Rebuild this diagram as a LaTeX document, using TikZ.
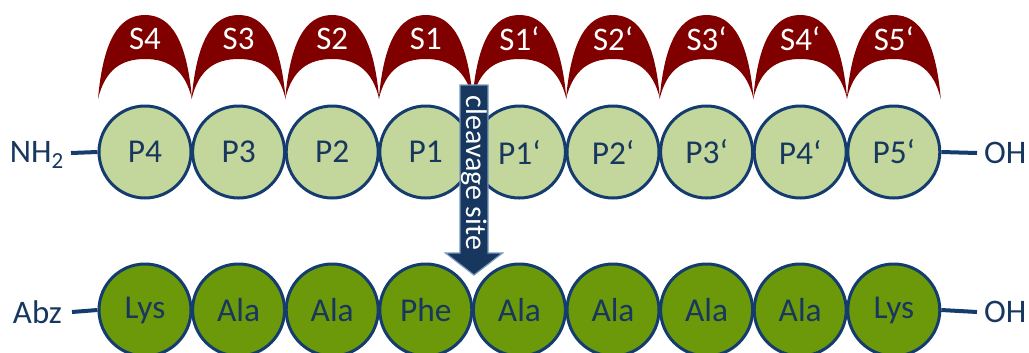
\documentclass[tikz,border=0pt]{standalone}
\usepackage{fontspec}
\setmainfont{Carlito}
\definecolor{maroon}{RGB}{128,0,0}
\definecolor{lightgr}{RGB}{195,214,155}
\definecolor{darkgr}{RGB}{108,153,10}
\definecolor{navy}{RGB}{23,55,94}
\definecolor{navyline}{RGB}{20,60,110}
\definecolor{arrowedge}{RGB}{120,150,190}
\begin{document}
\begin{tikzpicture}[x=1bp,y=-1bp,
  res/.style={circle,draw=navyline,line width=3bp,minimum size=92bp,inner sep=0pt,text=navy,font=\fontsize{33.5}{33.5}\selectfont},
  top/.style={res,fill=lightgr},
  bot/.style={res,fill=darkgr},
  pocket/.style={fill=maroon,draw=none},
  plab/.style={text=white,font=\fontsize{33}{33}\selectfont,inner sep=0pt},
  term/.style={text=navy,font=\fontsize{33}{33}\selectfont,inner sep=0pt},
  bond/.style={draw=navyline,line width=4bp},
  cleave/.style={fill=navy,draw=arrowedge,line width=1.2bp,line join=miter}]
\useasboundingbox (0,0) rectangle (1029,352);
% pockets
\foreach \i/\l in {0/S4,1/S3,2/S2,3/S1,4/S1‘,5/S2‘,6/S3‘,7/S4‘,8/S5‘}{
  \pgfmathsetmacro\cx{145+93.6*\i}
  \fill[pocket] (\cx-47,99) .. controls (\cx-42,42) and (\cx-27,15) .. (\cx,15)
     .. controls (\cx+27,15) and (\cx+42,42) .. (\cx+47,99)
     .. controls (\cx+40,70) and (\cx+24,59) .. (\cx,59)
     .. controls (\cx-24,59) and (\cx-40,70) .. (\cx-47,99) -- cycle;
  \node[plab] (s\i) at (\cx,39) {\l};
}
% top row
\foreach \i/\l in {0/P4,1/P3,2/P2,3/P1,4/P1‘,5/P2‘,6/P3‘,7/P4‘,8/P5‘}{
  \pgfmathsetmacro\cx{145+93.6*\i}
  \node[top] (t\i) at (\cx,152) {\l};
}
% bottom row
\foreach \i/\l in {0/Lys,1/Ala,2/Ala,3/Phe,4/Ala,5/Ala,6/Ala,7/Ala,8/Lys}{
  \pgfmathsetmacro\cx{145+93.6*\i}
  \node[bot] (b\i) at (\cx,310) {\l};
}
% termini
\node[term,anchor=east] (nh) at (64,155) {NH\textsubscript{2}};
\coordinate (nhe) at (71,153);
\draw[bond] (nhe) -- (t0.west);
\node[term,anchor=west] (oh1) at (984,153) {OH};
\coordinate (ohs1) at (977,153);
\draw[bond] (t8.east) -- (ohs1);
\node[term,anchor=east] (abz) at (62,312) {Abz};
\coordinate (abze) at (72,312);
\draw[bond] (abze) -- (b0.west);
\node[term,anchor=west] (oh2) at (984,312) {OH};
\coordinate (ohs2) at (977,312);
\draw[bond] (b8.east) -- (ohs2);
% cleavage arrow
\coordinate (atip) at (474,275);
\draw[cleave] (460,85) -- (488,85) -- (488,253) -- (502.5,253) -- (atip) -- (445.5,253) -- (460,253) -- cycle;
\node[rotate=-90, text=white, font=\fontsize{30}{30}\selectfont, inner sep=0pt] (cs) at (474,173) {cleavage site};
\end{tikzpicture}
\end{document}
